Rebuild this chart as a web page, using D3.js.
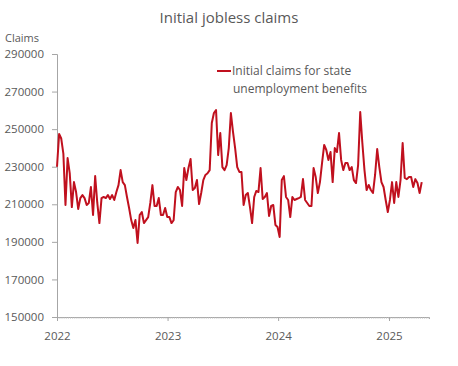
<!DOCTYPE html>
<html><head><meta charset="utf-8">
<script src="https://cdn.jsdelivr.net/npm/d3@7"></script>
<style>body{margin:0;background:#fff}svg{display:block}text{font-family:"Open Sans",sans-serif;fill:#595959}</style>
</head><body>
<script>
const title = "Initial jobless claims";
const yAxisTitle = "Claims";
const seriesName = ["Initial claims for state", "unemployment benefits"];
const startWeek = "2022-01-01";
const yTicks = [150000,170000,190000,210000,230000,250000,270000,290000];
const xTickYears = [2022,2023,2024,2025];
const claims = [
230000,247400,245000,237000,209600,234600,226600,208500,221800,216500,207500,213300,214900,213300,209600,210700,219200,204300,225000,210700,200000,213300,213900,213300,214900,212800,214900,212300,216500,220200,228200,221800,220200,213900,208000,201600,197400,201600,189400,204300,205900,200000,201600,203200,
210700,220200,209100,209100,213300,204300,204300,208000,203200,203200,200000,201500,216500,219200,217600,209100,229300,222900,229300,234100,217600,218700,222900,210100,216000,222900,225600,226500,228200,253300,258600,260200,236200,247900,229800,228200,230900,239900,258600,248500,239900,229800,
227200,227200,209600,214900,216000,208500,200000,213900,217100,216500,229300,212800,213900,216000,203800,209100,209600,199000,197900,192600,222900,225000,213900,212300,203200,213900,212300,212800,213300,213900,223400,212300,210700,209100,209100,229300,224500,216000,221800,232000,241600,238900,233600,
237800,221800,239900,237800,247900,233600,228200,232000,232000,228200,229800,222900,221300,230900,259100,242600,228200,217600,220300,217600,216000,225600,239400,229800,221800,219200,212300,205900,212300,221800,210700,221800,213900,222900,242600,224000,223400,224500,224500,219200,223400,221300,216000,221800
];

const W = 458, H = 366;
const svg = d3.select("body").append("svg").attr("width", W).attr("height", H);
const parse = d3.utcParse("%Y-%m-%d");
const t0 = parse(startWeek);
const dates = claims.map((_, i) => d3.utcWeek.offset(t0, i));

const x = d3.scaleUtc().domain([t0, parse("2025-05-13")]).range([57, 429]);
const y = d3.scaleLinear().domain([150000, 290000]).range([317, 54]);

svg.append("text").attr("x", 229).attr("y", 23).attr("text-anchor", "middle")
  .style("font-size", "15px").text(title);
svg.append("text").attr("x", 5).attr("y", 42).style("font-size", "11px").text(yAxisTitle);

// y axis
const ya = svg.append("g").attr("transform", "translate(57,0)")
  .call(d3.axisLeft(y).tickValues(yTicks).tickFormat(d3.format("d")).tickSize(5).tickPadding(8));
ya.select(".domain").attr("stroke", "#a6a6a6");
ya.selectAll(".tick line").attr("stroke", "#a6a6a6");
ya.selectAll(".tick text").style("font-size", "11.5px").style("font-family", "'Open Sans',sans-serif").attr("fill", "#595959");

// x axis minor (weekly) ticks
const weeks = d3.utcWeek.range(t0, x.domain()[1]);
const xm = svg.append("g").attr("transform", "translate(0,317)")
  .call(d3.axisBottom(x).tickValues(weeks).tickSize(2).tickFormat(""));
xm.select(".domain").attr("stroke", "#a6a6a6");
xm.selectAll(".tick line").attr("stroke", "#bfbfbf").attr("stroke-width", 0.6);
const xa = svg.append("g").attr("transform", "translate(0,317)")
  .call(d3.axisBottom(x).tickValues(xTickYears.map(yr => new Date(Date.UTC(yr,0,1)))).tickSize(4).tickPadding(11).tickFormat(d3.utcFormat("%Y")));
xa.select(".domain").remove();
xa.selectAll(".tick line").attr("stroke", "#a6a6a6");
xa.selectAll(".tick text").style("font-size", "11.5px").style("font-family", "'Open Sans',sans-serif").attr("fill", "#595959");

// line
const line = d3.line().x((d, i) => x(dates[i])).y(d => y(d));
svg.append("path").datum(claims).attr("d", line).attr("fill", "none")
  .attr("stroke", "#c0101e").attr("stroke-width", 2).attr("stroke-linejoin", "round");

// legend
svg.append("line").attr("x1", 217).attr("x2", 231).attr("y1", 71).attr("y2", 71)
  .attr("stroke", "#c0101e").attr("stroke-width", 2);
svg.append("text").attr("x", 232).attr("y", 75).style("font-size", "12px").text(seriesName[0]);
svg.append("text").attr("x", 233).attr("y", 93).style("font-size", "12px").text(seriesName[1]);
</script>
</body></html>
